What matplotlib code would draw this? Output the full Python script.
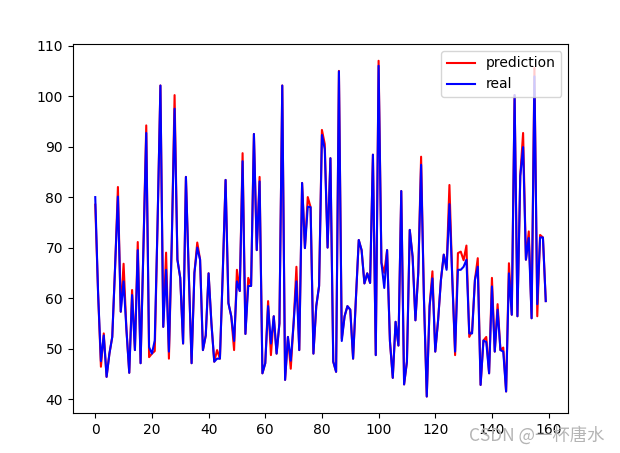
import numpy as np
import matplotlib
matplotlib.use('Agg')
import matplotlib.pyplot as plt

# real values, index 0..159
real = [80, 61, 47.5, 52.6, 44.4, 49, 52.3, 66, 80.1, 57.3,
        63.3, 53.8, 45.2, 60.6, 49.7, 69.5, 47.1, 70, 92.7, 50.3,
        49, 51.6, 75, 102.1, 54.3, 65.6, 49.4, 71, 97.5, 67.6,
        64, 51, 84, 65, 47.1, 65, 70, 67.6, 49.7, 52.6,
        64.9, 55, 47.4, 48, 48, 65, 83.4, 59, 56.4, 51.5,
        63.3, 61.4, 87.1, 52.9, 62.4, 62.4, 92.5, 69.5, 83.1, 45.1,
        47.1, 58.4, 51, 56.4, 49, 55, 102.1, 43.8, 52.3, 47.6,
        55, 63.3, 49.7, 82.8, 69.9, 78.1, 78, 49, 58.4, 62.4,
        92.3, 89.5, 70, 87.7, 47.4, 45.4, 104.9, 51.5, 56.4, 58.4,
        57.7, 48, 60, 71.5, 69.5, 62.9, 64.9, 63, 88.4, 48.7,
        106, 67, 62, 69.5, 51.5, 44.2, 55.3, 50.6, 81.2, 42.9,
        47.4, 73.5, 68.2, 55.6, 65, 86.4, 60, 40.5, 58.4, 63.9,
        49.4, 55.6, 63.6, 68.6, 65.6, 78.6, 64, 49.4, 65.6, 65.6,
        66.2, 67.6, 53, 53, 63.6, 66.2, 42.8, 51.6, 51.3, 45.1,
        62.3, 49.4, 57.7, 49.7, 49.4, 41.5, 64.9, 56.7, 100.2, 56.4,
        84.2, 89.9, 67.6, 71.9, 56, 103.9, 58.8, 72, 72, 59.4]

# prediction differs from real only at a few points
pred = list(real)
pred_diff = {0: 78.5, 2: 46.4, 3: 53, 8: 82, 10: 66.8, 13: 61.6, 15: 71.1,
             18: 94.2, 19: 48.3, 21: 49.5, 25: 69, 26: 48, 28: 100.2, 36: 71,
             43: 49.7, 49: 49.7, 50: 65.6, 52: 88.7, 54: 64, 58: 84, 61: 59.4,
             62: 48.7, 69: 46, 71: 66.2, 75: 80, 80: 93.3, 81: 90.5, 86: 105,
             87: 52, 100: 107, 102: 65, 115: 88, 119: 65.3, 124: 66, 125: 82.4,
             127: 48.7, 128: 68.9, 129: 69.2, 130: 67.5, 131: 70.4, 132: 52.3,
             133: 53.5, 135: 67.9, 138: 52.3, 140: 64, 142: 58.8, 144: 50.2,
             146: 66.9, 151: 92.7, 153: 73.2, 155: 105.6, 156: 56.4, 157: 72.5}
for k, v in pred_diff.items():
    pred[k] = v

x = np.arange(len(real))

fig = plt.figure(figsize=(6.2, 4.53), dpi=100)
ax = fig.add_axes([0.1173, 0.0876, 0.7993, 0.8153])
ax.plot(x, pred, color='red', label='prediction')
ax.plot(x, real, color='blue', label='real')
ax.legend(loc='upper right')

# CSDN watermark, sits over the tick labels like in the source image
fig.text(0.975, 0.018, 'CSDN @一杯唐水', ha='right', va='bottom', fontsize=12.5,
         color='#b4b4b4', family=['Noto Sans CJK SC', 'DejaVu Sans'])

fig.savefig('out.png')
